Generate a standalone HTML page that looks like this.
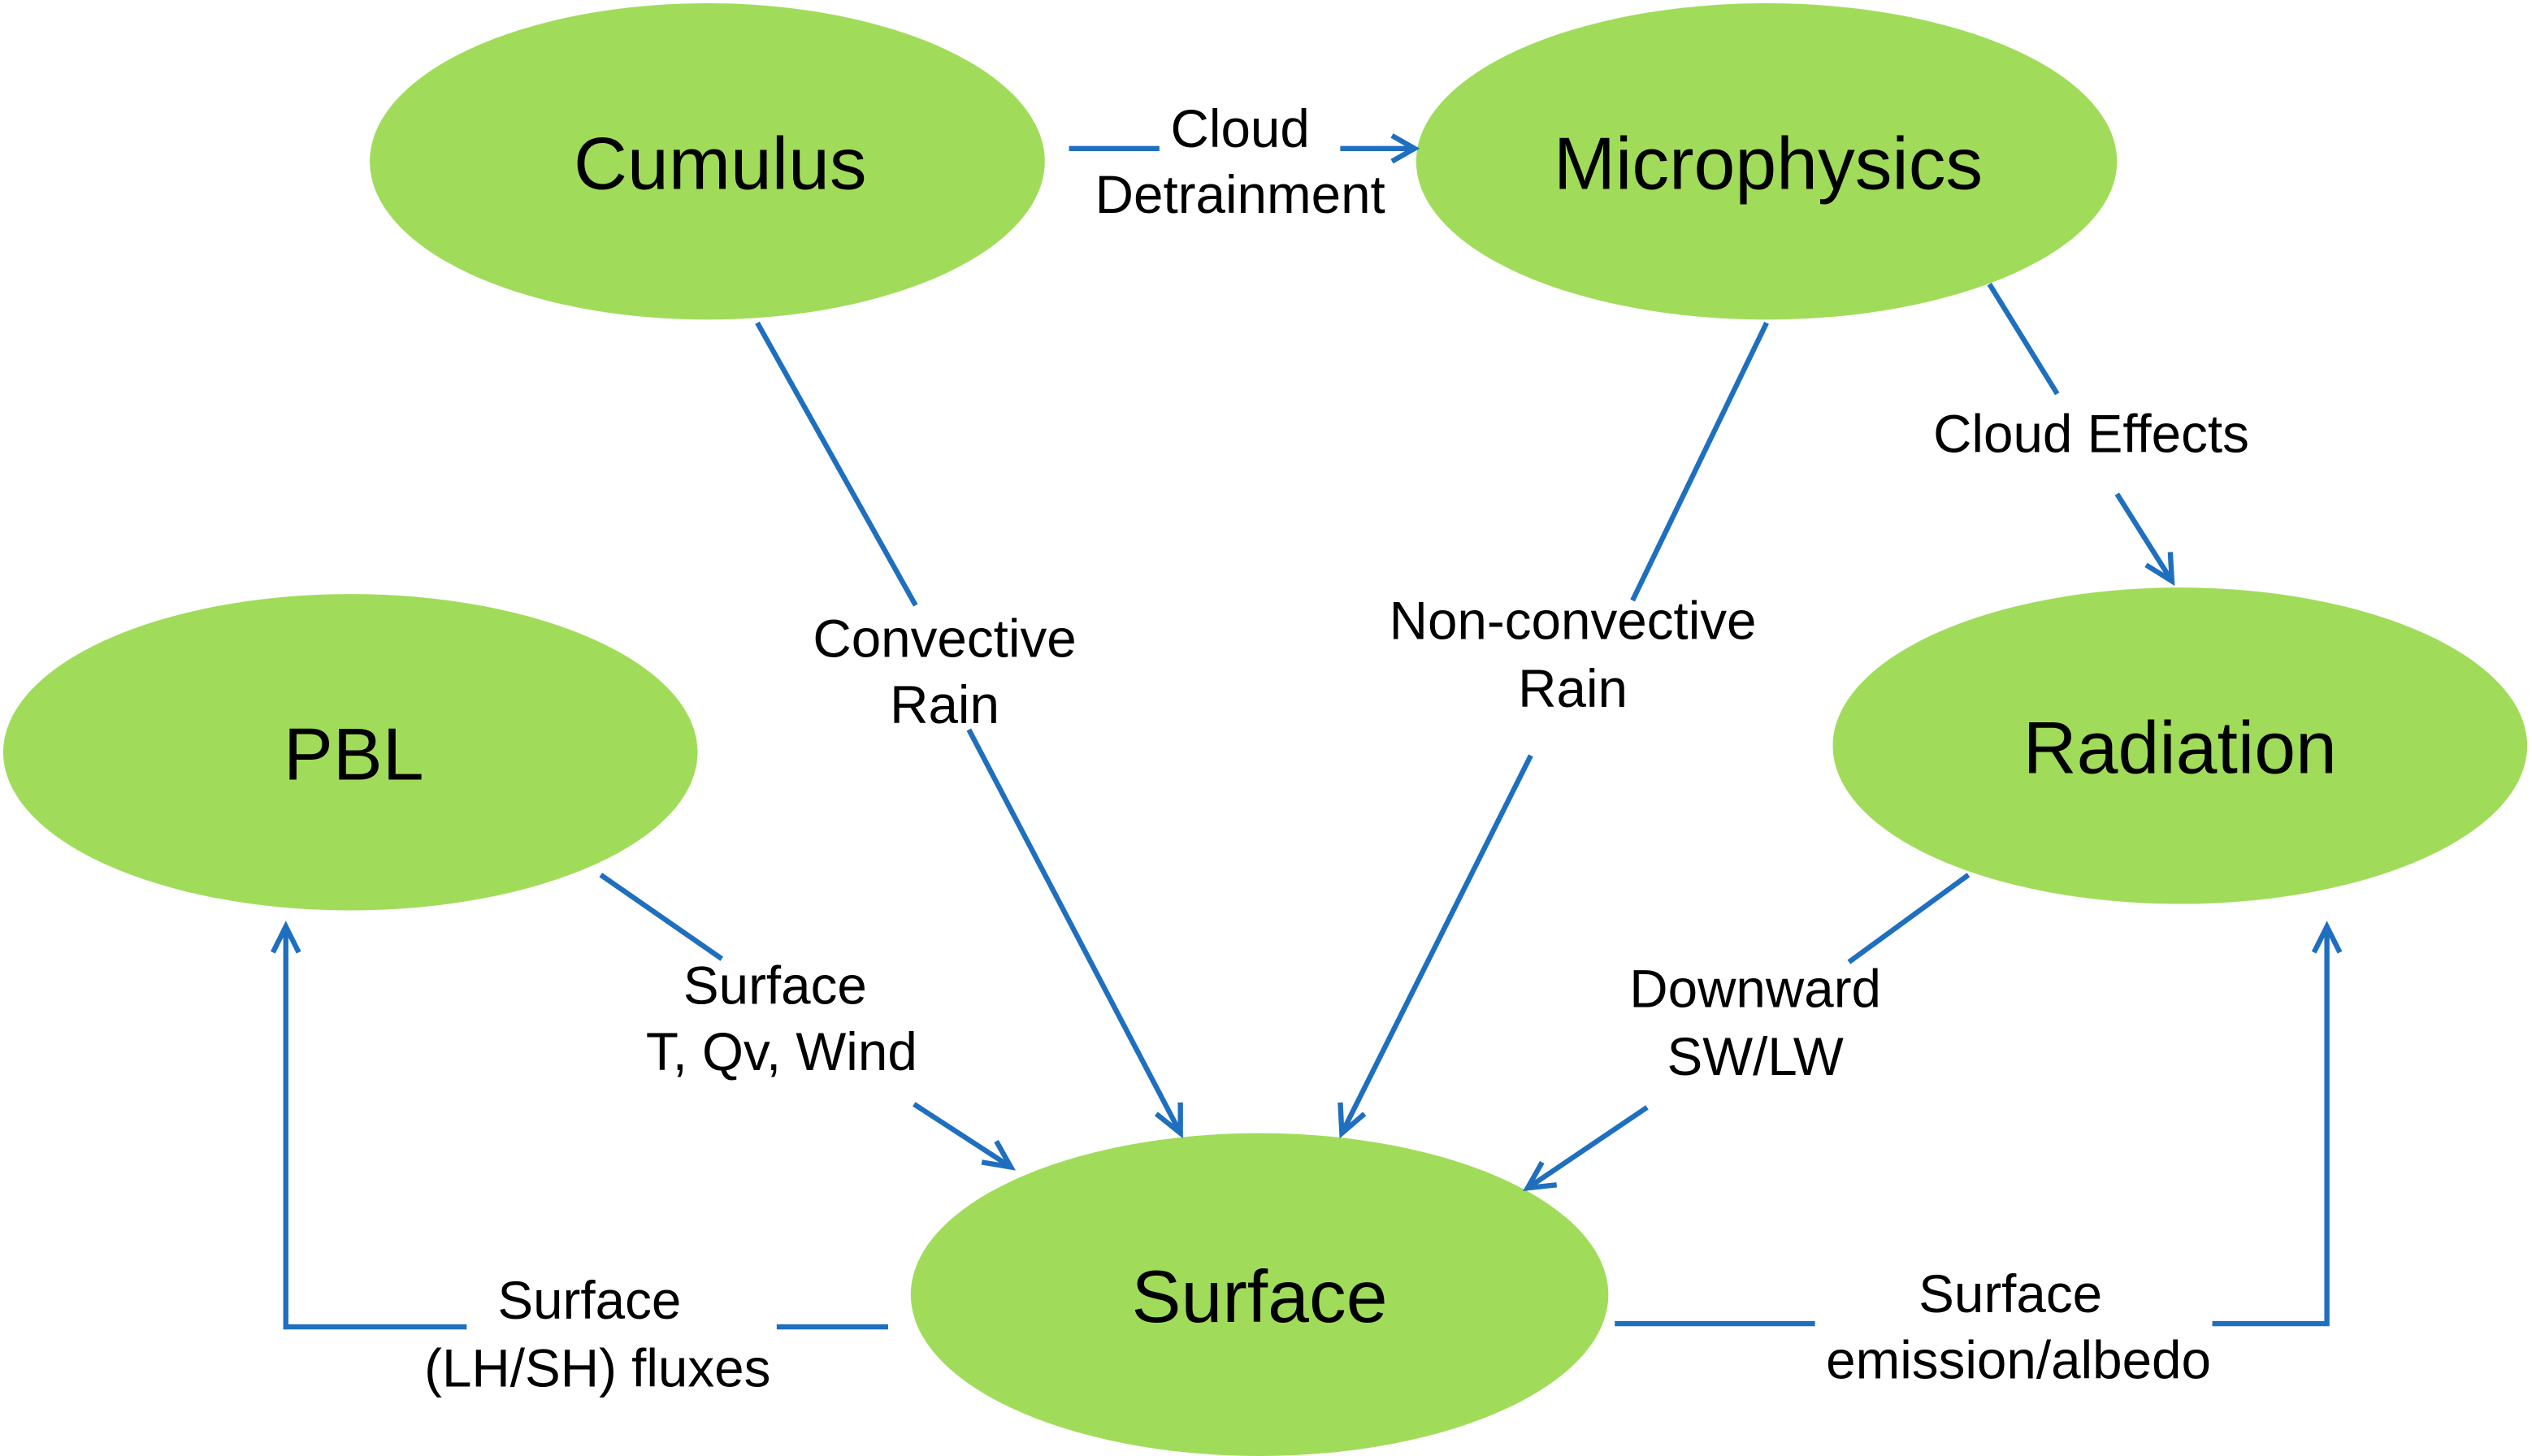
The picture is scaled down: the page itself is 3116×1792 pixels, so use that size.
<!DOCTYPE html>
<html><head><meta charset="utf-8">
<style>
html,body{margin:0;padding:0;background:#fff;}
svg{display:block;}
.n{font-family:"Liberation Sans",sans-serif;font-size:46px;fill:#000;text-anchor:middle;}
.l{font-family:"Liberation Sans",sans-serif;font-size:33px;fill:#000;text-anchor:middle;}
.c{stroke:#1f6fbf;stroke-width:3.2;fill:none;}
</style></head>
<body>
<svg width="3116" height="1792" viewBox="0 0 1568 902" preserveAspectRatio="none">
<g fill="#a0dc5a">
<ellipse cx="438" cy="100" rx="209" ry="98"/>
<ellipse cx="1094" cy="100" rx="217" ry="98"/>
<ellipse cx="217" cy="466" rx="215" ry="98"/>
<ellipse cx="1350" cy="462" rx="215" ry="98"/>
<ellipse cx="780" cy="802" rx="216" ry="100"/>
</g>
<text class="n" x="446" y="117">Cumulus</text>
<text class="n" x="1095" y="117">Microphysics</text>
<text class="n" x="219" y="483">PBL</text>
<text class="n" x="1350" y="479">Radiation</text>
<text class="n" x="780" y="819">Surface</text>

<g class="c">
<line x1="662" y1="92" x2="718" y2="92"/>
<line x1="830" y1="92" x2="876" y2="92"/>
<polyline points="862,84 876,92 862,100"/>

<line x1="469" y1="200" x2="567" y2="375"/>
<line x1="600" y1="452" x2="731" y2="702"/>
<polyline points="716,690 731,702 731,683"/>

<line x1="1094" y1="200" x2="1011" y2="372"/>
<line x1="948" y1="468" x2="831" y2="702"/>
<polyline points="830,683 831,702 845,690"/>

<line x1="1232" y1="176" x2="1274" y2="244"/>
<line x1="1311" y1="306" x2="1345" y2="360"/>
<polyline points="1329,350 1345,360 1344,342"/>

<line x1="372" y1="542" x2="447" y2="594"/>
<line x1="566" y1="684" x2="626" y2="723"/>
<polyline points="608,720 626,723 617,707"/>

<line x1="1219" y1="542" x2="1145" y2="596"/>
<line x1="1020" y1="686" x2="946" y2="736"/>
<polyline points="955,720 946,736 964,734"/>

<line x1="550" y1="822" x2="481" y2="822"/>
<polyline points="289,822 177,822 177,574"/>
<polyline points="169,590 177,574 185,590"/>

<line x1="1000" y1="820" x2="1124" y2="820"/>
<polyline points="1370,820 1441,820 1441,574"/>
<polyline points="1433,590 1441,574 1449,590"/>
</g>

<text class="l" x="768" y="91">Cloud</text>
<text class="l" x="768" y="132">Detrainment</text>
<text class="l" x="585" y="407">Convective</text>
<text class="l" x="585" y="448">Rain</text>
<text class="l" x="974" y="396">Non-convective</text>
<text class="l" x="974" y="438">Rain</text>
<text class="l" x="1295" y="280">Cloud Effects</text>
<text class="l" x="480" y="622">Surface</text>
<text class="l" x="484" y="663">T, Qv, Wind</text>
<text class="l" x="1087" y="624">Downward</text>
<text class="l" x="1087" y="666">SW/LW</text>
<text class="l" x="365" y="817">Surface</text>
<text class="l" x="370" y="859">(LH/SH) fluxes</text>
<text class="l" x="1245" y="813">Surface</text>
<text class="l" x="1250" y="854">emission/albedo</text>
</svg>
</body></html>
